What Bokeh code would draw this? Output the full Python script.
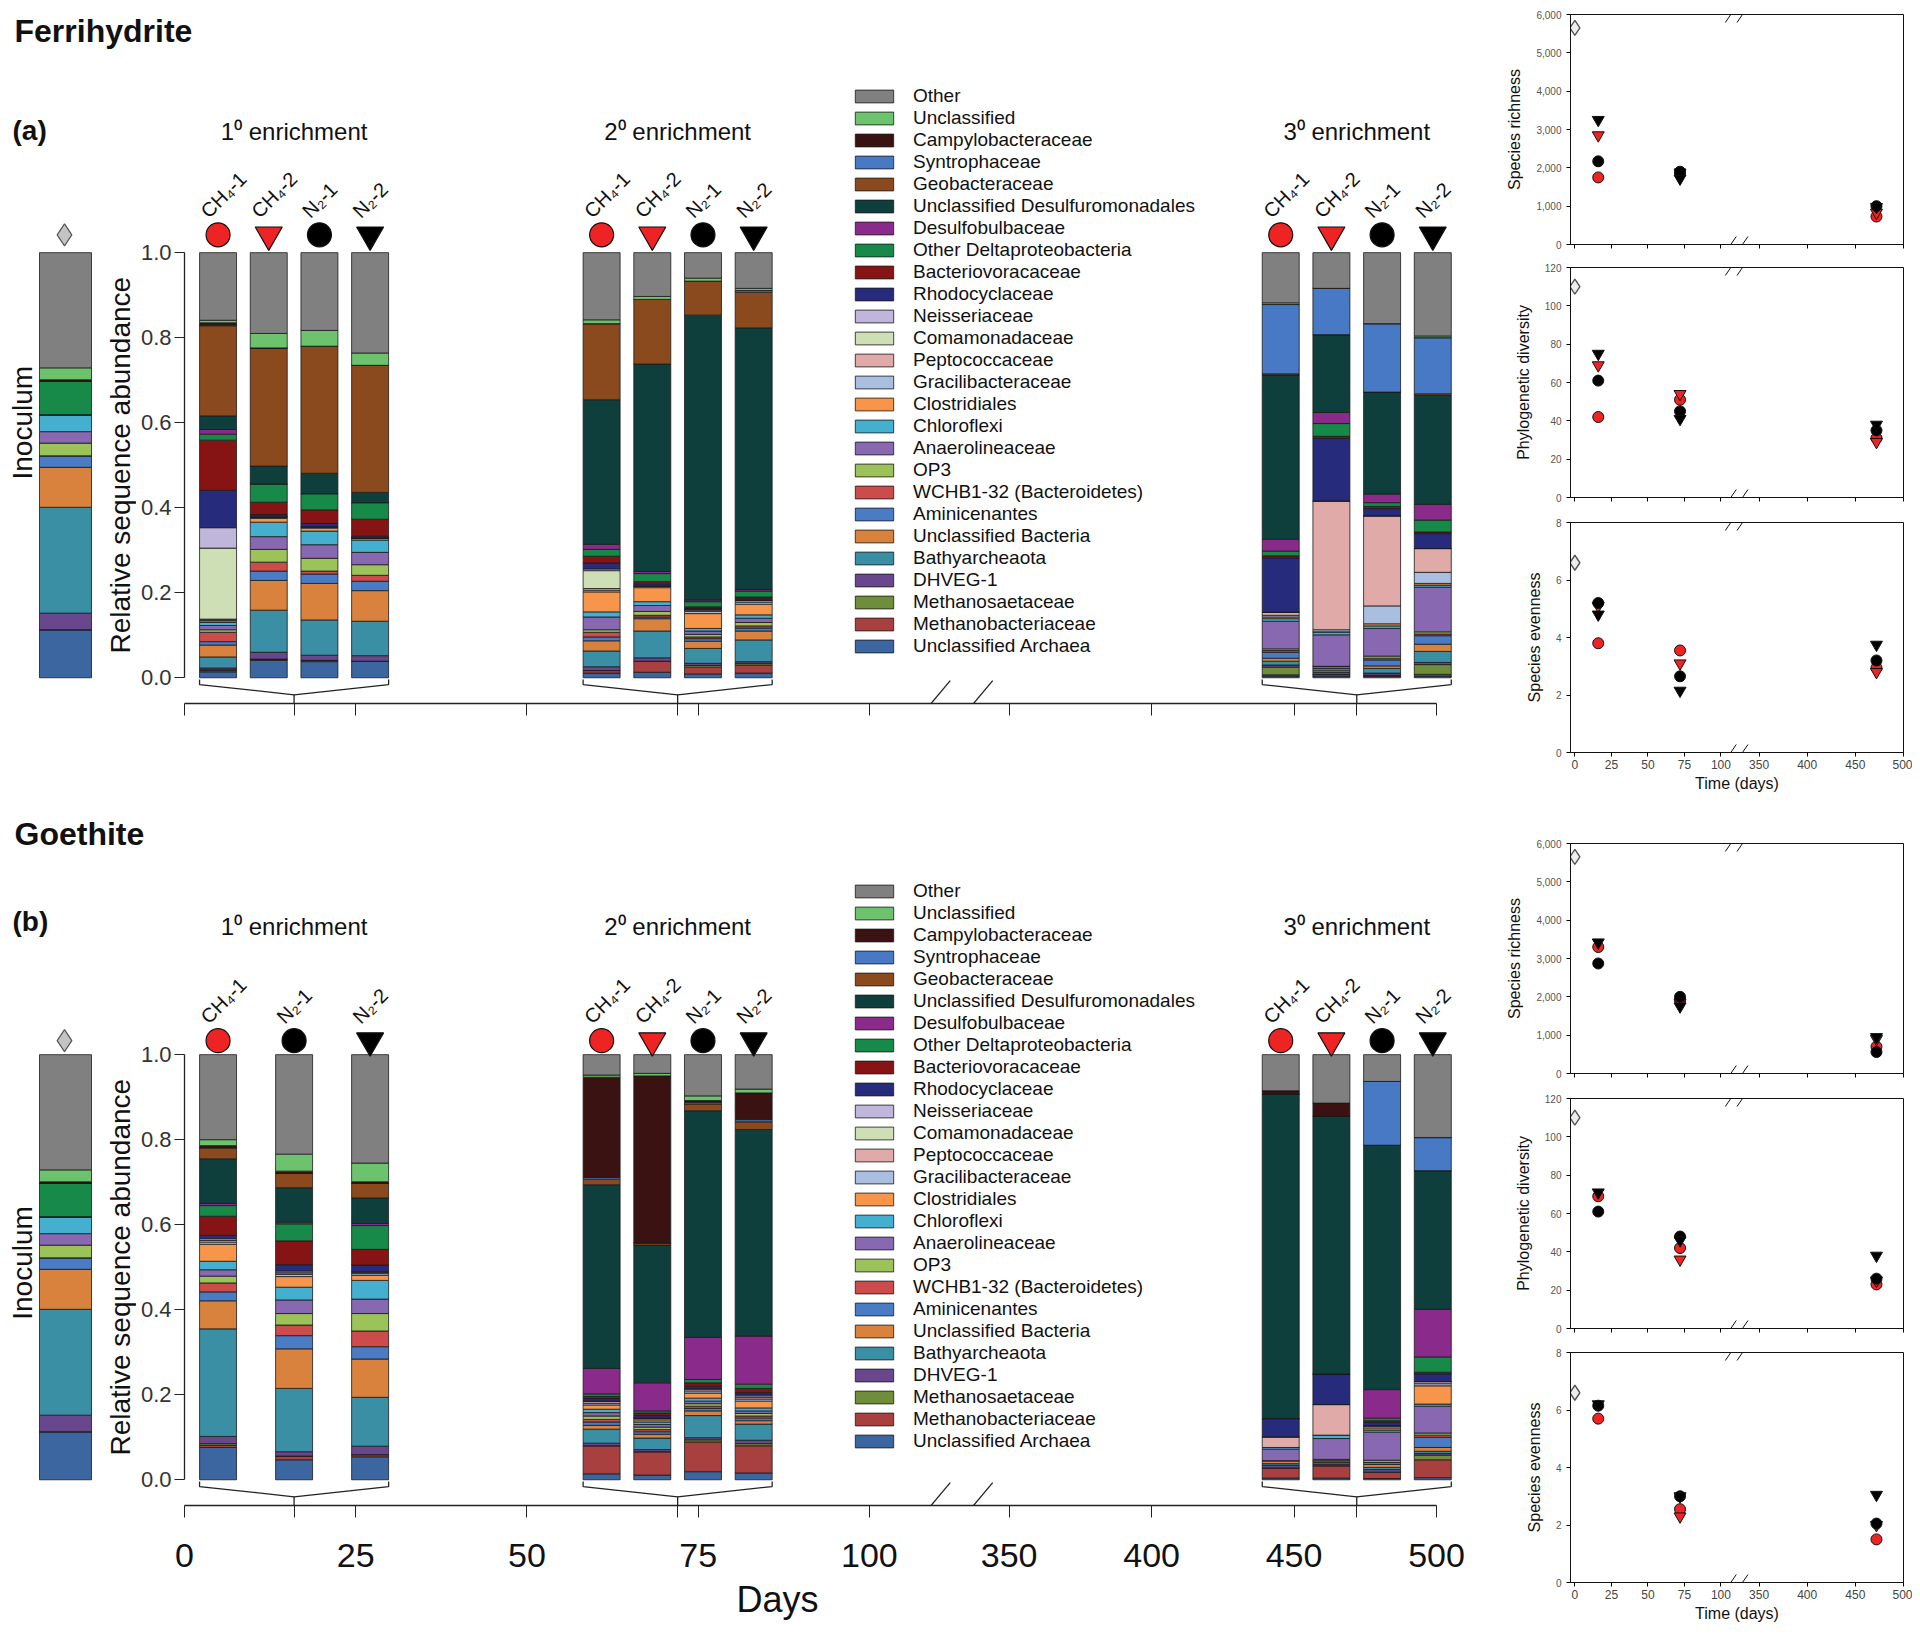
import math
from bokeh.plotting import figure
from bokeh.layouts import row, column
from bokeh.models import (ColumnDataSource, Range1d, FixedTicker, Legend,
                          LegendItem, NumeralTickFormatter, Arrow)
from bokeh.core.properties import value
from bokeh.embed import file_html
from bokeh.resources import INLINE

FONT = "Liberation Sans"

# ---------------- data ----------------
# stack order: bottom -> top
categories = [
    "Unclassified Archaea", "Methanobacteriaceae", "Methanosaetaceae", "DHVEG-1",
    "Bathyarcheaota", "Unclassified Bacteria", "Aminicenantes", "WCHB1-32 (Bacteroidetes)",
    "OP3", "Anaerolineaceae", "Chloroflexi", "Clostridiales", "Gracilibacteraceae",
    "Peptococcaceae", "Comamonadaceae", "Neisseriaceae", "Rhodocyclaceae",
    "Bacteriovoracaceae", "Other Deltaproteobacteria", "Desulfobulbaceae",
    "Unclassified Desulfuromonadales", "Geobacteraceae", "Syntrophaceae",
    "Campylobacteraceae", "Unclassified", "Other",
]
colors = [
    "#3c66a0", "#a94040", "#6f8d3b", "#69478c",
    "#3a8fa5", "#d8823d", "#4a7cc6", "#cc4b4b",
    "#9cc35a", "#8868b0", "#45afd0", "#f7954a", "#aabfe0",
    "#e0aaa8", "#cedfb5", "#c0b6d9", "#272b7c",
    "#861414", "#178a4a", "#8a2b8c",
    "#0e3f3d", "#8b4a1e", "#4779c4",
    "#3b1212", "#6dc36d", "#808080",
]

samples = ["CH\u2084-1", "CH\u2084-2", "N\u2082-1", "N\u2082-2"]
stage_labels = ["1\u2070 enrichment", "2\u2070 enrichment", "3\u2070 enrichment"]
stage_days = [16, 72, 472]
axis_days = [0, 25, 50, 75, 100, 350, 400, 450, 500]

inoculum = [.113, 0, 0, .039, .249, .094, .027, 0, .030, .027, .040, 0, 0,
            0, 0, 0, 0, 0, .078, 0, 0, 0, 0, .004, .028, .271]

# Ferrihydrite
a1_ch4_1 = [.014, .003, .002, .004, .026, .028, .008, .022, .006, .010, .007, .004, .002,
            .002, .167, .048, .088, .118, .014, .011, .032, .212, .002, .005, .006, .159]
a1_ch4_2 = [.041, .003, 0, .016, .099, .070, .022, .021, .030, .030, .034, .009, .003,
            0, 0, .002, .004, .029, .043, 0, .042, .278, 0, 0, .034, .190]
a1_n2_1 = [.038, .003, 0, .012, .083, .086, .022, .007, .030, .032, .032, .007, .003,
           0, 0, 0, .008, .032, .038, 0, .048, .299, 0, 0, .037, .183]
a1_n2_2 = [.039, 0, 0, .013, .081, .072, .022, .014, .025, .029, .029, .005, 0,
           0, 0, 0, .004, .040, .039, 0, .024, .299, 0, 0, .029, .236]
a2_ch4_1 = [.011, .006, 0, .009, .037, .024, .009, .011, .006, .030, .012, .047, .004,
            .004, .042, .004, .014, .016, .016, .012, .340, .179, 0, 0, .009, .158]
a2_ch4_2 = [.013, .026, 0, .008, .063, .029, .004, .004, .009, .014, .009, .033, .004,
            0, 0, 0, .005, .005, .019, .005, .488, .152, 0, 0, .007, .103]
a2_n2_1 = [.009, .016, .004, .005, .035, .017, .006, .004, .006, .008, .006, .035, .005,
           .004, 0, 0, .003, .004, .012, .004, .670, .080, 0, 0, .007, .060]
a2_n2_2 = [.011, .019, .004, .004, .051, .021, .007, .005, .008, .010, .008, .025, .005,
           .004, 0, 0, .004, .004, .014, .004, .615, .084, .004, 0, .005, .084]
a3_ch4_1 = [.004, .003, .018, .005, .009, .007, .014, .004, .004, .065, .006, .004, .004,
            .007, 0, 0, .128, .005, .011, .028, .386, .003, .163, 0, .004, .118]
a3_ch4_2 = [.004, .004, 0, .005, .005, .004, .005, 0, 0, .074, .007, 0, .005,
            .303, 0, 0, .147, .005, .030, .026, .183, 0, .109, 0, 0, .084]
a3_n2_1 = [.003, .003, 0, .005, .011, .006, .014, .004, .005, .065, .006, .005, .042,
           .212, 0, 0, .017, .005, .009, .020, .240, 0, .161, 0, 0, .167]
a3_n2_2 = [.004, .004, .023, .005, .026, .017, .020, .004, .005, .105, .005, .004, .026,
           .056, 0, 0, .035, .004, .028, .037, .256, .004, .132, 0, .004, .196]

# Goethite
b1_ch4_1 = [.076, .005, .004, .017, .253, .066, .021, .021, .016, .015, .020, .040, .005,
            .004, 0, .004, .008, .045, .025, .005, .105, .026, 0, .005, .014, .200]
b1_n2_1 = [.047, .009, 0, .010, .149, .093, .031, .025, .027, .032, .030, .025, .005,
           .004, 0, .004, .015, .056, .040, .004, .081, .034, 0, .005, .040, .234]
b1_n2_2 = [.054, .005, 0, .020, .115, .090, .029, .037, .041, .034, .044, .012, .004,
           .004, 0, 0, .016, .037, .056, .005, .060, .034, 0, .004, .044, .255]
b2_ch4_1 = [.014, .066, 0, .006, .033, .009, .008, .006, .008, .008, .008, .010, .004,
            .005, 0, 0, .006, .005, .006, .060, .432, .013, .004, .236, .005, .048]
b2_ch4_2 = [.011, .055, 0, .005, .027, .009, .006, .005, .006, .006, .006, .005, .004,
            0, 0, 0, .006, .006, .005, .066, .324, .005, 0, .393, .006, .044]
b2_n2_1 = [.019, .070, .005, .005, .052, .011, .006, .005, .006, .006, .007, .012, .005,
           .005, 0, 0, .006, .008, .008, .099, .533, .016, .004, .004, .011, .097]
b2_n2_2 = [.016, .064, .005, .008, .038, .008, .006, .005, .006, .006, .007, .016, .005,
           .005, 0, .004, .006, .010, .010, .113, .486, .018, .005, .063, .009, .081]
b3_ch4_1 = [.004, .024, 0, .006, .004, .007, 0, 0, 0, .027, .004, 0, 0,
            .025, 0, 0, .043, 0, 0, 0, .763, 0, 0, .008, 0, .085]
b3_ch4_2 = [.004, .029, 0, .004, .004, .004, 0, 0, .003, .049, .008, 0, 0,
            .072, 0, 0, .072, 0, 0, 0, .606, 0, 0, .031, 0, .114]
b3_n2_1 = [.003, .015, 0, .006, .005, .007, .005, 0, .005, .066, .005, .005, .005,
           0, 0, 0, .008, .004, .006, .067, .575, 0, .150, 0, 0, .063]
b3_n2_2 = [.005, .042, .011, .004, .005, .009, .024, .005, .005, .063, .005, .043, .005,
           .005, 0, 0, .018, .004, .036, .112, .326, 0, .078, 0, 0, .195]

a_stage_values = [[a1_ch4_1, a1_ch4_2, a1_n2_1, a1_n2_2],
                  [a2_ch4_1, a2_ch4_2, a2_n2_1, a2_n2_2],
                  [a3_ch4_1, a3_ch4_2, a3_n2_1, a3_n2_2]]
a_stage_samples = [[0, 1, 2, 3], [0, 1, 2, 3], [0, 1, 2, 3]]
b_stage_values = [[b1_ch4_1, b1_n2_1, b1_n2_2],
                  [b2_ch4_1, b2_ch4_2, b2_n2_1, b2_n2_2],
                  [b3_ch4_1, b3_ch4_2, b3_n2_1, b3_n2_2]]
b_stage_samples = [[0, 2, 3], [0, 1, 2, 3], [0, 1, 2, 3]]

# diversity metrics, rows: CH4-1, CH4-2, N2-1, N2-2 ; columns: the three sampling days
inoc_richness, inoc_diversity, inoc_evenness = 5650, 110, 6.6
rich_a = [[1750, 1850, 730], [2850, 1880, 830], [2170, 1900, 1000], [3250, 1720, 980]]
div_a = [[42, 51, 31], [69, 54, 29], [61, 45, 35], [75, 41, 38]]
even_a = [[3.8, 3.55, 2.95], [5.1, 3.1, 2.8], [5.2, 2.65, 3.2], [4.8, 2.15, 3.75]]
rich_b = [[3300, 1900, 700], [None, 1850, 900], [2870, 2000, 560], [3420, 1750, 950]]
div_b = [[69, 42, 23], [None, 36, 25], [61, 48, 26], [71, 46, 38]]
even_b = [[5.7, 2.55, 1.5], [None, 2.3, 2.0], [6.15, 3.0, 2.05], [6.2, 3.0, 3.05]]

# ---------------- styling ----------------
marker_type = ["circle", "inverted_triangle", "circle", "inverted_triangle"]
marker_fill = ["#ee2323", "#ee2323", "#000000", "#000000"]
Y0, Y1 = -0.0605, 1.452


def main_u(d):
    return float(d) if d <= 200 else round(120.4 + (d - 350) * 0.416, 3)


def s_u(d):
    return float(d) if d <= 200 else round(126.1 + (d - 350) * 0.659, 3)


def header(text, height, ty):
    p = figure(width=1490, height=height, x_range=Range1d(0, 1490), y_range=Range1d(0, height),
               x_axis_type=None, y_axis_type=None, min_border=0,
               output_backend="svg", toolbar_location=None)
    p.outline_line_color = None
    p.grid.visible = False
    p.text(x=[14], y=[ty], text=[text], text_font=value(FONT), text_font_size="32px",
           text_font_style="bold", text_baseline="middle", text_align="left", text_color="#111111")
    return p


def inoc_fig(letter, letter_y, label_y, marker_y, bottom):
    p = figure(frame_width=136, frame_height=643, min_border_left=0, min_border_right=0,
               min_border_top=4, min_border_bottom=bottom,
               x_range=Range1d(0, 136), y_range=Range1d(Y0, Y1),
               x_axis_type=None, y_axis_type=None, output_backend="svg", toolbar_location=None)
    p.outline_line_color = None
    p.grid.visible = False
    src = ColumnDataSource({**{"x": [65]}, **{c: [v] for c, v in zip(categories, inoculum)}})
    p.vbar_stack(categories, x="x", width=52, color=colors, line_color="#1a1a1a",
                 line_width=0.8, source=src)
    p.scatter([64], [marker_y], marker="diamond", size=22, fill_color="#c4c4c4",
              line_color="#555555", line_width=1.2)
    p.text(x=[22], y=[label_y], text=["Inoculum"], angle=math.pi / 2, text_font=value(FONT),
           text_font_size="28px", text_align="center", text_baseline="middle", text_color="#111111")
    p.text(x=[120], y=[0.5], text=["Relative sequence abundance"], angle=math.pi / 2,
           text_font=value(FONT), text_font_size="28px", text_align="center",
           text_baseline="middle", text_color="#111111")
    p.text(x=[12], y=[letter_y], text=[letter], text_font=value(FONT), text_font_size="28px",
           text_font_style="bold", text_align="left", text_baseline="middle", text_color="#111111")
    return p


def main_fig(stage_values, stage_samples, bottom, show_labels, label_y, marker_y, legend_y):
    p = figure(frame_width=1276, frame_height=643, min_border_left=48, min_border_right=30,
               min_border_top=4, min_border_bottom=bottom,
               x_range=Range1d(0, 186.3), y_range=Range1d(Y0, Y1),
               output_backend="svg", toolbar_location=None)
    p.outline_line_color = None
    p.grid.visible = False

    data = {c: [] for c in categories}
    xs = []
    mx, my, mm, mf, ms = [], [], [], [], []
    tx, ty, tt = [], [], []
    bxs, bys = [], []
    centers = []
    for gi, (vals_list, sidx) in enumerate(zip(stage_values, stage_samples)):
        center = main_u(stage_days[gi])
        centers.append(center)
        n = len(sidx)
        step = 7.4 if n == 4 else 11.1
        gx = []
        for k, (vals, s) in enumerate(zip(vals_list, sidx)):
            x = center + (k - (n - 1) / 2) * step
            gx.append(x)
            xs.append(x)
            for c, v in zip(categories, vals):
                data[c].append(v)
            mx.append(x); my.append(marker_y); mm.append(marker_type[s]); mf.append(marker_fill[s])
            ms.append(24 if marker_type[s] == "circle" else 27)
            tx.append(x - 0.9); ty.append(marker_y + 0.03); tt.append(samples[s])
        xl, xr = gx[0] - 2.7, gx[-1] + 2.7
        bxs.append([xl, xl, center, xr, xr]); bys.append([-0.004, -0.016, -0.04, -0.016, -0.004])
        bxs.append([center, center]); bys.append([-0.04, Y0])

    src = ColumnDataSource({"x": xs, **data})
    rends = p.vbar_stack(categories, x="x", width=5.4, color=colors, line_color="#1a1a1a",
                         line_width=0.8, source=src)
    p.multi_line(bxs, bys, line_color="#222222", line_width=1.3)
    msrc = ColumnDataSource(dict(x=mx, y=my, m=mm, f=mf, s=ms))
    p.scatter("x", "y", marker="m", fill_color="f", size="s", line_color="#111111",
              line_width=1.2, source=msrc)
    p.text(x=tx, y=ty, text=tt, angle=math.pi / 4, text_font=value(FONT), text_font_size="20px",
           text_align="left", text_baseline="bottom", text_color="#111111")
    p.text(x=centers, y=[label_y] * 3, text=stage_labels, text_font=value(FONT),
           text_font_size="24px", text_align="center", text_baseline="middle", text_color="#111111")

    # axis break marks
    brk = main_u(100) + 6.2
    for off in (0.0, 6.2):
        p.add_layout(Arrow(x_start=brk + off, y_start=Y0 - 0.054, x_end=brk + off + 5.6,
                           y_end=Y0 + 0.054, end=None, line_color="#222222", line_width=1.3))

    legend = Legend(items=[LegendItem(label=c, renderers=[r])
                           for c, r in reversed(list(zip(categories, rends)))],
                    location=(666, legend_y), orientation="vertical",
                    glyph_width=48, glyph_height=16, label_height=21, spacing=0,
                    padding=0, margin=0, label_standoff=15,
                    label_text_font=FONT, label_text_font_size="19px",
                    label_text_color="#111111",
                    border_line_alpha=0, background_fill_alpha=0)
    p.add_layout(legend)

    ya = p.yaxis[0]
    ya.ticker = FixedTicker(ticks=[0, 0.2, 0.4, 0.6, 0.8, 1.0])
    ya.formatter = NumeralTickFormatter(format="0.0")
    ya.bounds = (0, 1)
    ya.major_label_text_font = FONT
    ya.major_label_text_font_size = "22px"
    ya.major_label_text_color = "#333333"
    ya.major_label_standoff = 3
    ya.major_tick_out = 10
    ya.major_tick_in = 0
    ya.minor_tick_out = 0
    ya.axis_line_color = "#222222"
    ya.major_tick_line_color = "#222222"
    ya.axis_line_width = 1.3

    xa = p.xaxis[0]
    ticks = [main_u(d) for d in axis_days] + centers
    xa.ticker = FixedTicker(ticks=ticks)
    overrides = {main_u(d): (str(d) if show_labels else "") for d in axis_days}
    for c in centers:
        overrides[c] = ""
    xa.major_label_overrides = overrides
    xa.bounds = (0, main_u(500))
    xa.major_tick_out = 12
    xa.major_tick_in = 0
    xa.minor_tick_out = 0
    xa.axis_line_color = "#222222"
    xa.major_tick_line_color = "#222222"
    xa.axis_line_width = 1.3
    xa.major_label_text_font = FONT
    xa.major_label_text_font_size = "34px"
    xa.major_label_text_color = "#111111"
    xa.major_label_standoff = 26
    if show_labels:
        xa.axis_label = "Days" + "\u00a0" * 9
        xa.axis_label_text_font = FONT
        xa.axis_label_text_font_size = "36px"
        xa.axis_label_text_font_style = "normal"
        xa.axis_label_text_color = "#111111"
        xa.axis_label_standoff = 9
    return p


def scatter_fig(vals, inoc_val, ymax, ystep, ylabel, top_b, bot_b, bottom_plot):
    p = figure(frame_width=333, frame_height=230, min_border_left=80, min_border_right=9,
               min_border_top=top_b, min_border_bottom=bot_b,
               x_range=Range1d(-3, 225), y_range=Range1d(0, ymax),
               output_backend="svg", toolbar_location=None)
    p.grid.visible = False
    p.outline_line_color = "#111111"
    p.outline_line_width = 1
    for s in range(4):
        xs_, ys_ = [], []
        for d, v in zip(stage_days, vals[s]):
            if v is not None:
                xs_.append(s_u(d)); ys_.append(v)
        p.scatter(xs_, ys_, marker=marker_type[s], size=11 if marker_type[s] == "circle" else 12,
                  fill_color=marker_fill[s], line_color="#111111", line_width=1)
    p.scatter([s_u(0)], [inoc_val], marker="diamond", size=15, fill_color="#eeeeee",
              line_color="#555555", line_width=1.4)
    # axis break marks on top and bottom frame edges
    dy = ymax * 8 / 230
    for edge in (0, ymax):
        for x0 in (103.0, 111.0):
            p.add_layout(Arrow(x_start=x0, y_start=edge - dy, x_end=x0 + 7.5, y_end=edge + dy,
                               end=None, line_color="#111111", line_width=1))

    ya = p.yaxis[0]
    ya.ticker = FixedTicker(ticks=list(range(0, ymax + 1, ystep)))
    ya.formatter = NumeralTickFormatter(format="0,0")
    ya.major_label_text_font = FONT
    ya.major_label_text_font_size = "10px"
    ya.major_label_text_color = "#555555"
    ya.major_tick_out = 4
    ya.major_tick_in = 0
    ya.minor_tick_out = 0
    ya.axis_label = ylabel
    ya.axis_label_text_font = FONT
    ya.axis_label_text_font_size = "16px"
    ya.axis_label_text_font_style = "normal"
    ya.axis_label_text_color = "#111111"
    ya.axis_label_standoff = 10
    ya.axis_line_color = "#111111"

    xa = p.xaxis[0]
    xa.ticker = FixedTicker(ticks=[s_u(d) for d in axis_days])
    xa.major_label_overrides = {s_u(d): (str(d) if bottom_plot else "") for d in axis_days}
    xa.major_tick_out = 4
    xa.major_tick_in = 0
    xa.minor_tick_out = 0
    xa.axis_line_color = "#111111"
    xa.major_label_text_font = FONT
    xa.major_label_text_font_size = "12px"
    xa.major_label_text_color = "#444444"
    xa.major_label_standoff = 3
    if bottom_plot:
        xa.axis_label = "Time (days)"
        xa.axis_label_text_font = FONT
        xa.axis_label_text_font_size = "16px"
        xa.axis_label_text_font_style = "normal"
        xa.axis_label_text_color = "#111111"
        xa.axis_label_standoff = 3
    return p


# ---------------- panel (a) ----------------
head_a = header("Ferrihydrite", 56, 26)
inoc_a = inoc_fig("(a)", 1.287, 0.60, 1.042, 107)
main_a = main_fig(a_stage_values, a_stage_samples, 107, False, 1.285, 1.042, 46)
s1a = scatter_fig(rich_a, inoc_richness, 6000, 1000, "Species richness", 14, 12, False)
s2a = scatter_fig(div_a, inoc_diversity, 120, 20, "Phylogenetic diversity", 11, 12, False)
s3a = scatter_fig(even_a, inoc_evenness, 8, 2, "Species evenness", 13, 58, True)

# ---------------- panel (b) ----------------
head_b = header("Goethite", 48, 25)
inoc_b = inoc_fig("(b)", 1.313, 0.51, 1.033, 129)
main_b = main_fig(b_stage_values, b_stage_samples, 129, True, 1.301, 1.033, 53)
s1b = scatter_fig(rich_b, inoc_richness, 6000, 1000, "Species richness", 33, 12, False)
s2b = scatter_fig(div_b, inoc_diversity, 120, 20, "Phylogenetic diversity", 13, 12, False)
s3b = scatter_fig(even_b, inoc_evenness, 8, 2, "Species evenness", 12, 52, True)

layout = column(
    row(column(head_a, row(inoc_a, main_a)), column(s1a, s2a, s3a)),
    row(column(head_b, row(inoc_b, main_b)), column(s1b, s2b, s3b)),
)

open("out.html", "w").write(file_html(layout, INLINE, "Ferrihydrite / Goethite"))
